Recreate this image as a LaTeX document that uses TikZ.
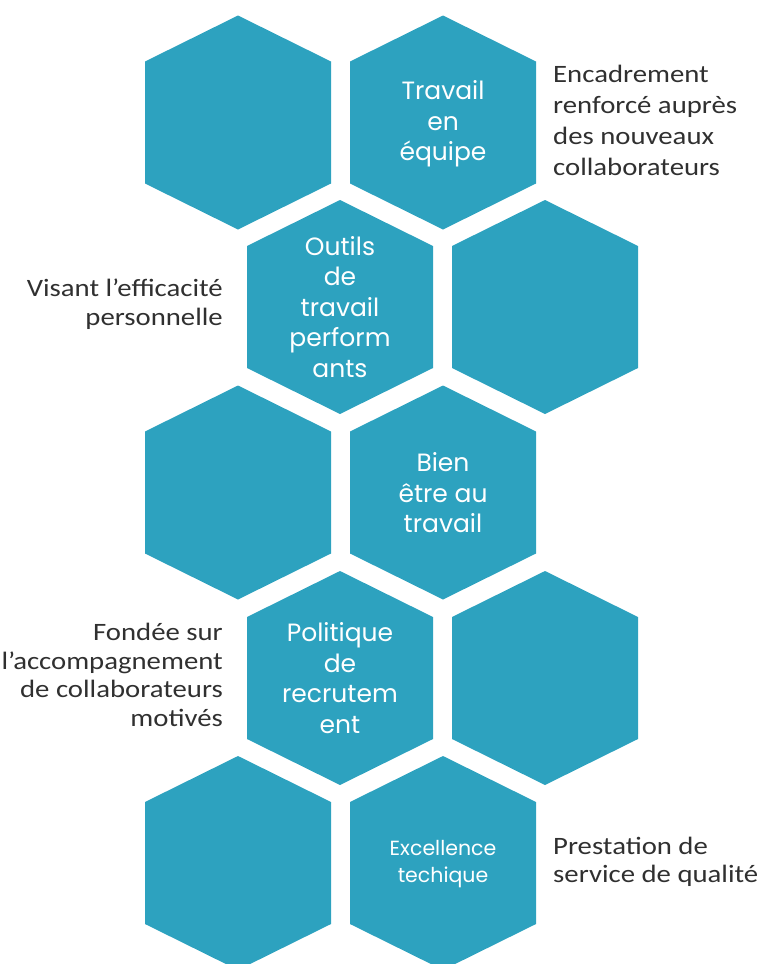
\documentclass[tikz,border=0pt]{standalone}
\usepackage{fontspec}
\setmainfont{Carlito}[FakeStretch=1.15]
\newfontfamily\hexfont{Poppins}
\definecolor{hexteal}{HTML}{2DA2BF}
\definecolor{sidetext}{HTML}{303030}
\tikzset{
  hexlabel/.style={text=white, align=center, inner sep=0pt, font=\hexfont\fontsize{25}{30.5}\selectfont},
  hexsmall/.style={hexlabel, font=\hexfont\fontsize{20.5}{26.5}\selectfont},
  sidenote/.style={text=sidetext, inner sep=0pt, font=\fontsize{25}{28.5}\selectfont},
}
\newcommand{\hexat}[2]{\fill[hexteal] (#1,#2) ++(0,-107) -- ++(93,46) -- ++(0,122) -- ++(-93,46) -- ++(-93,-46) -- ++(0,-122) -- cycle;}
\begin{document}
\begin{tikzpicture}[x=1pt,y=-1pt]
\useasboundingbox (0,0) rectangle (760,964);
\clip (0,0) rectangle (760,964);
% hexagons
\hexat{238}{122.5}
\hexat{443}{122.5}
\hexat{340}{307}
\hexat{545}{307}
\hexat{238}{492.5}
\hexat{443}{492.5}
\hexat{340}{678}
\hexat{545}{678}
\hexat{238}{863}
\hexat{443}{863}
% hexagon labels
\node[hexlabel] (travail) at (443,124) {Travail\\en\\équipe};
\node[hexlabel] (outils) at (340,307) {Outils\\de\\travail\\perform\\ants};
\node[hexlabel] (bien) at (443,493) {Bien\\être au\\travail};
\node[hexlabel] (politique) at (340,678) {Politique\\de\\recrutem\\ent};
\node[hexsmall] (excellence) at (443,864) {Excellence\\techique};
% side notes
\node[sidenote, anchor=west, align=left, font=\fontsize{25}{31}\selectfont] (encadrement) at (553,120) {Encadrement\\renforcé auprès\\des nouveaux\\collaborateurs};
\node[sidenote, anchor=east, align=right] (visant) at (223,304) {Visant l’efficacité\\personnelle};
\node[sidenote, anchor=east, align=right] (fondee) at (223,675) {Fondée sur\\l’accompagnement\\de collaborateurs\\motivés};
\node[sidenote, anchor=west, align=left] (prestation) at (553,862) {Prestation de\\service de qualité};
\end{tikzpicture}
\end{document}
